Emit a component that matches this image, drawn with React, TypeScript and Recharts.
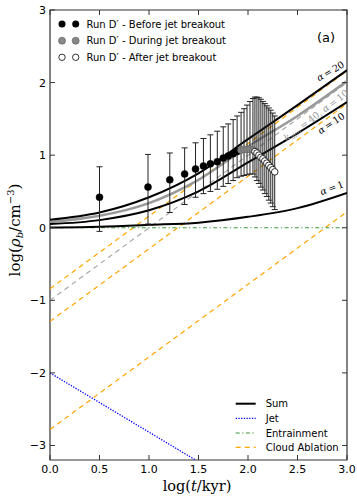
import React from 'react';
import { ComposedChart, Line, Scatter, XAxis, YAxis, ErrorBar, ReferenceArea } from 'recharts';

// ---------- data ----------
const xTicks = [0, 0.5, 1, 1.5, 2, 2.5, 3];
const yTicks = [-3, -2, -1, 0, 1, 2, 3];

// Sum curves
const curveX = [0, 0.5, 1, 1.5, 2, 2.5, 3];
const sumAlpha20 = [0.11, 0.21, 0.42, 0.75, 1.22, 1.69, 2.17];
const sumKmin40 = [0.08, 0.165, 0.34, 0.66, 1.12, 1.54, 2.02];
const sumAlpha10 = [0.05, 0.105, 0.24, 0.5, 0.9, 1.3, 1.73];
const sumAlpha1 = [0.005, 0.015, 0.04, 0.07, 0.15, 0.27, 0.48];

// Straight components
const lineX = [0, 3];
const ablationAlpha20 = [-0.84, 2.16];
const ablationAlpha10 = [-1.29, 1.71];
const ablationAlpha1 = [-2.78, 0.22];
const ablationKmin40 = [-1.0, 2.0];
const entrainment = [0, 0];
const jetX = [0, 1.47];
const jetY = [-2.0, -3.2];

// Run D' data
const beforeX = [0.5, 0.99, 1.21, 1.36, 1.47, 1.55, 1.62, 1.69, 1.75, 1.8, 1.85, 1.89];
const beforeY = [0.42, 0.56, 0.66, 0.74, 0.81, 0.85, 0.88, 0.91, 0.96, 0.99, 1.02, 1.05];
const beforeLo = [-0.05, 0.05, 0.21, 0.32, 0.42, 0.47, 0.5, 0.53, 0.57, 0.61, 0.65, 0.69];
const beforeHi = [0.84, 1.01, 1.03, 1.1, 1.17, 1.23, 1.28, 1.33, 1.39, 1.43, 1.49, 1.54];

const duringX = [1.93, 1.96, 1.99, 2.02, 2.05];
const duringY = [1.07, 1.08, 1.08, 1.08, 1.07];
const duringLo = [0.71, 0.72, 0.73, 0.74, 0.74];
const duringHi = [1.59, 1.64, 1.69, 1.74, 1.78];

const afterX = [2.07, 2.09, 2.11, 2.13, 2.15, 2.17, 2.19, 2.21, 2.23, 2.25, 2.27];
const afterY = [1.05, 1.03, 1.0, 0.97, 0.95, 0.92, 0.89, 0.86, 0.83, 0.8, 0.77];
const afterLo = [0.7, 0.65, 0.61, 0.56, 0.52, 0.47, 0.43, 0.38, 0.34, 0.29, 0.25];
const afterHi = [1.8, 1.8, 1.79, 1.77, 1.74, 1.71, 1.68, 1.65, 1.62, 1.58, 1.54];

// ---------- builders ----------
const pts = (xs: number[], ys: number[]) => xs.map((x, i) => ({ x, y: ys[i] }));
const errPts = (xs: number[], ys: number[], lo: number[], hi: number[]) =>
  xs.map((x, i) => ({ x, y: ys[i], err: [ys[i] - lo[i], hi[i] - ys[i]] }));

const PLOT = { left: 50, right: 347, top: 10, bottom: 460 };
const TICK = 5;
const AX = '#333';

const fmtY = (v: number) => (v < 0 ? '\u2212' + Math.abs(v) : String(v));

const XTick = (props: any) => {
  const { x, payload } = props;
  return (
    <g>
      <line x1={x} x2={x} y1={PLOT.bottom} y2={PLOT.bottom - TICK} stroke={AX} />
      <line x1={x} x2={x} y1={PLOT.top} y2={PLOT.top + TICK} stroke={AX} />
      <text x={x} y={472.5} textAnchor="middle" fontSize={11} fontFamily="DejaVu Sans" fill="#000">
        {Number(payload.value).toFixed(1)}
      </text>
    </g>
  );
};

const YTick = (props: any) => {
  const { y, payload } = props;
  return (
    <g>
      <line x1={PLOT.left} x2={PLOT.left + TICK} y1={y} y2={y} stroke={AX} />
      <line x1={PLOT.right} x2={PLOT.right - TICK} y1={y} y2={y} stroke={AX} />
      <text x={46} y={y + 4} textAnchor="end" fontSize={11} fontFamily="DejaVu Sans" fill="#000">
        {fmtY(Number(payload.value))}
      </text>
    </g>
  );
};

const dotShape = (r: number, fill: string, stroke: string, sw: number) => (p: any) =>
  <circle cx={p.cx} cy={p.cy} r={r} fill={fill} stroke={stroke} strokeWidth={sw} />;

const SERIF = 'DejaVu Serif';
const SANS = 'DejaVu Sans';
const DASH = '5 4';
const TS = '\u2009';

export default function App() {
  return (
    <div style={{ position: 'absolute', left: 0, top: 0, width: 357, height: 500, background: '#fff' }}>
      <ComposedChart width={357} height={500} margin={{ top: 10, right: 10, left: 0, bottom: 0 }}>
        <XAxis
          type="number"
          dataKey="x"
          domain={[0, 3]}
          ticks={xTicks}
          interval={0}
          height={40}
          axisLine={false}
          tickLine={false}
          tick={<XTick />}
          allowDataOverflow
        />
        <YAxis
          type="number"
          dataKey="y"
          domain={[-3.2, 3]}
          ticks={yTicks}
          interval={0}
          width={50}
          axisLine={false}
          tickLine={false}
          tick={<YTick />}
          allowDataOverflow
        />
        <Line data={pts(lineX, ablationAlpha1)} dataKey="y" stroke="#ffa500" strokeWidth={1.2} strokeDasharray={DASH} dot={false} isAnimationActive={false} />
        <Line data={pts(lineX, ablationAlpha10)} dataKey="y" stroke="#ffa500" strokeWidth={1.2} strokeDasharray={DASH} dot={false} isAnimationActive={false} />
        <Line data={pts(lineX, ablationKmin40)} dataKey="y" stroke="#a8a8a8" strokeWidth={1.2} strokeDasharray={DASH} dot={false} isAnimationActive={false} />
        <Line data={pts(lineX, ablationAlpha20)} dataKey="y" stroke="#ffa500" strokeWidth={1.2} strokeDasharray={DASH} dot={false} isAnimationActive={false} />
        <Line data={pts(lineX, entrainment)} dataKey="y" stroke="#3a9a3a" strokeWidth={1.2} strokeDasharray="4 2.5 1.2 2.5" dot={false} isAnimationActive={false} />
        <Line data={pts(jetX, jetY)} dataKey="y" stroke="#0000ff" strokeWidth={1.3} strokeDasharray="1.3 1.4" dot={false} isAnimationActive={false} />
        <Line data={pts(curveX, sumAlpha1)} type="monotone" dataKey="y" stroke="#000" strokeWidth={2} dot={false} isAnimationActive={false} />
        <Line data={pts(curveX, sumKmin40)} type="monotone" dataKey="y" stroke="#999" strokeWidth={2.5} dot={false} isAnimationActive={false} />
        <Line data={pts(curveX, sumAlpha10)} type="monotone" dataKey="y" stroke="#000" strokeWidth={2} dot={false} isAnimationActive={false} />
        <Line data={pts(curveX, sumAlpha20)} type="monotone" dataKey="y" stroke="#000" strokeWidth={2} dot={false} isAnimationActive={false} />
        <Scatter data={errPts(beforeX, beforeY, beforeLo, beforeHi)} dataKey="y" isAnimationActive={false} shape={dotShape(3.5, '#000', '#000', 0.5)}>
          <ErrorBar dataKey="err" direction="y" width={3} stroke="#222" strokeWidth={1} isAnimationActive={false} />
        </Scatter>
        <Scatter data={errPts(duringX, duringY, duringLo, duringHi)} dataKey="y" isAnimationActive={false} shape={dotShape(3.5, '#888', '#555', 0.6)}>
          <ErrorBar dataKey="err" direction="y" width={3} stroke="#222" strokeWidth={1} isAnimationActive={false} />
        </Scatter>
        <Scatter data={errPts(afterX, afterY, afterLo, afterHi)} dataKey="y" isAnimationActive={false} shape={dotShape(3.3, '#fff', '#000', 0.8)}>
          <ErrorBar dataKey="err" direction="y" width={3} stroke="#222" strokeWidth={1} isAnimationActive={false} />
        </Scatter>
        <ReferenceArea x1={0} x2={3} y1={-3.2} y2={3} fill="none" fillOpacity={0} stroke={AX} strokeWidth={1.2} ifOverflow="visible" />
      </ComposedChart>

      <svg width={357} height={500} style={{ position: 'absolute', left: 0, top: 0, pointerEvents: 'none' }}>
        {/* top-left legend */}
        <g fontFamily={SANS} fontSize={10} fill="#000">
          <circle cx={62} cy={24} r={3.5} fill="#000" />
          <circle cx={75.7} cy={24} r={3.5} fill="#000" />
          <text x={86.5} y={27.5}>Run D{'\u2032'} - Before jet breakout</text>
          <circle cx={62} cy={40.7} r={3.5} fill="#888" stroke="#555" strokeWidth={0.6} />
          <circle cx={75.7} cy={40.7} r={3.5} fill="#888" stroke="#555" strokeWidth={0.6} />
          <text x={86.5} y={44.2}>Run D{'\u2032'} - During jet breakout</text>
          <circle cx={62} cy={57.3} r={3.2} fill="#fff" stroke="#000" strokeWidth={0.8} />
          <circle cx={75.7} cy={57.3} r={3.2} fill="#fff" stroke="#000" strokeWidth={0.8} />
          <text x={86.5} y={60.8}>Run D{'\u2032'} - After jet breakout</text>
        </g>
        <text x={326} y={42} textAnchor="middle" fontFamily={SANS} fontSize={13} fill="#000">(a)</text>

        {/* curve annotations */}
        <g fontFamily={SERIF} fontSize={9.5} fill="#000">
          <text transform="translate(332,74) rotate(-30)" textAnchor="middle">
            <tspan fontStyle="italic">α</tspan>{TS}={TS}20
          </text>
          <text transform="translate(333,126) rotate(-34)" textAnchor="middle">
            <tspan fontStyle="italic">α</tspan>{TS}={TS}10
          </text>
          <text transform="translate(333,191) rotate(-20)" textAnchor="middle">
            <tspan fontStyle="italic">α</tspan>{TS}={TS}1
          </text>
          <text transform="translate(318,118) rotate(-37)" textAnchor="middle" fill="#999">
            <tspan fontStyle="italic">k</tspan>
            <tspan fontSize={6.5} dy={2}>min</tspan>
            <tspan dy={-2}>{TS}={TS}40, </tspan>
            <tspan fontStyle="italic">α</tspan>{TS}={TS}10
          </text>
        </g>

        {/* bottom legend */}
        <g fontFamily={SANS} fontSize={10} fill="#000">
          <line x1={235.7} x2={255.7} y1={403.7} y2={403.7} stroke="#000" strokeWidth={2} />
          <text x={265.7} y={407.2}>Sum</text>
          <line x1={235.7} x2={255.7} y1={418.3} y2={418.3} stroke="#0000ff" strokeWidth={1.3} strokeDasharray="1.3 1.4" />
          <text x={265.7} y={421.8}>Jet</text>
          <line x1={235.7} x2={255.7} y1={433} y2={433} stroke="#3a9a3a" strokeWidth={1.2} strokeDasharray="4 2.5 1.2 2.5" />
          <text x={265.7} y={436.5}>Entrainment</text>
          <line x1={235.7} x2={255.7} y1={447.3} y2={447.3} stroke="#ffa500" strokeWidth={1.2} strokeDasharray={DASH} />
          <text x={265.7} y={450.8}>Cloud Ablation</text>
        </g>

        {/* axis labels */}
        <text x={197} y={491} textAnchor="middle" fontFamily={SERIF} fontSize={14.5} fill="#000">
          log(<tspan fontStyle="italic">t</tspan>/kyr)
        </text>
        <text transform="translate(20,230) rotate(-90)" textAnchor="middle" fontFamily={SERIF} fontSize={15} fill="#000">
          log(<tspan fontStyle="italic">ρ</tspan>
          <tspan fontStyle="italic" fontSize={10} dy={3}>b</tspan>
          <tspan dy={-3}>/cm</tspan>
          <tspan fontSize={10} dy={-6}>{'\u2212'}3</tspan>
          <tspan dy={6}>)</tspan>
        </text>
      </svg>
    </div>
  );
}
